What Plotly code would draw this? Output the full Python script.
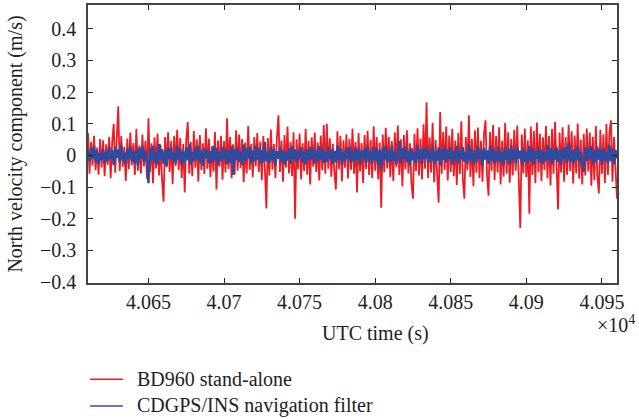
import plotly.graph_objects as go

# sample times (s), one sample per second from 40610 to 40960
t_start = 40610
n_samples = 351
times = [t_start + i for i in range(n_samples)]

bd960 = [
    0.071, -0.058, 0.043, -0.032, 0.062, -0.047, 0.025, -0.061, 0.052, -0.038,
    0.048, -0.066, 0.035, -0.029, 0.058, -0.072, 0.041, 0.100, -0.055, 0.044,
    0.155, -0.049, 0.061, -0.036, 0.027, -0.081, 0.053, -0.044, 0.072, -0.031,
    0.039, -0.062, 0.084, -0.048, 0.031, -0.057, 0.066, -0.035, 0.046, -0.074,
    0.117, -0.052, 0.038, -0.088, 0.057, -0.041, 0.069, -0.063, 0.034, -0.079,
    -0.146, 0.058, -0.037, 0.073, -0.052, 0.045, -0.090, 0.062, -0.033, 0.081,
    -0.047, 0.055, -0.071, 0.036, -0.117, 0.049, 0.105, -0.058, 0.042, -0.066,
    0.077, -0.039, 0.051, -0.083, 0.064, -0.046, 0.038, -0.059, 0.086, -0.042,
    0.053, -0.068, 0.029, -0.051, 0.074, -0.108, 0.047, -0.036, 0.062, -0.077,
    0.045, -0.054, 0.117, -0.043, 0.058, -0.072, 0.035, -0.061, 0.079, -0.048,
    0.066, -0.039, 0.052, -0.085, 0.041, -0.057, 0.093, -0.046, 0.037, -0.069,
    0.058, -0.034, 0.071, -0.052, 0.044, -0.078, 0.061, -0.041, -0.168, 0.055,
    -0.063, 0.082, -0.045, 0.036, -0.071, 0.059, 0.127, -0.052, 0.047, -0.083,
    0.064, -0.038, 0.091, -0.057, 0.042, -0.066, 0.073, -0.200, 0.051, -0.044,
    0.069, -0.075, 0.038, -0.049, 0.084, -0.061, 0.045, -0.092, 0.057, -0.036,
    0.072, -0.053, 0.041, -0.079, 0.063, -0.047, 0.096, -0.058, 0.100, -0.042,
    0.054, -0.067, 0.037, -0.051, -0.108, 0.076, -0.044, 0.061, -0.082, 0.048,
    -0.039, 0.067, -0.073, 0.052, -0.046, 0.085, -0.058, 0.043, -0.117, 0.071,
    -0.051, 0.039, -0.087, 0.064, -0.043, 0.078, -0.062, 0.049, -0.071, 0.092,
    -0.048, 0.058, -0.076, 0.041, -0.165, 0.066, -0.053, 0.087, -0.041, 0.059,
    -0.069, 0.045, -0.081, 0.073, -0.037, 0.094, -0.062, 0.051, -0.098, 0.064,
    -0.044, 0.079, -0.057, 0.038, -0.089, -0.137, 0.068, -0.049, 0.086, -0.063,
    0.053, -0.076, 0.098, -0.042, 0.168, -0.071, 0.057, -0.054, 0.103, -0.085,
    0.049, -0.062, -0.149, 0.137, -0.058, 0.074, -0.046, 0.091, -0.079, 0.063,
    -0.052, 0.084, -0.066, 0.047, -0.093, 0.071, -0.059, 0.108, -0.074, -0.137,
    0.058, -0.047, 0.127, -0.068, 0.052, -0.097, 0.079, -0.055, 0.088, -0.071,
    0.046, -0.083, 0.067, 0.111, -0.062, -0.127, 0.074, -0.049, 0.096, -0.078,
    0.061, -0.054, 0.089, -0.092, 0.045, -0.067, 0.102, -0.058, 0.073, -0.086,
    0.052, -0.063, 0.081, -0.048, 0.094, -0.075, -0.229, 0.066, -0.057, 0.085,
    -0.069, 0.048, -0.184, 0.091, -0.062, 0.077, -0.088, 0.104, -0.053, 0.068,
    -0.081, 0.057, -0.046, 0.093, -0.072, 0.061, -0.095, 0.084, -0.058, 0.106,
    -0.067, -0.171, 0.072, -0.054, 0.089, -0.083, 0.058, -0.061, 0.097, -0.049,
    0.076, -0.089, 0.063, -0.057, 0.101, -0.074, 0.049, -0.092, 0.068, -0.063,
    0.085, -0.051, 0.072, -0.096, 0.059, -0.078, 0.093, -0.066, -0.120, 0.081,
    -0.058, 0.067, -0.087, 0.099, -0.062, 0.074, 0.111, -0.083, 0.058, -0.071,
    -0.137,
]

cdgps_ins = [
    0.012, -0.018, 0.024, -0.009, 0.031, -0.022, 0.015, -0.027, 0.008, -0.014,
    0.021, -0.025, 0.011, -0.019, 0.028, -0.012, 0.017, -0.031, 0.026, -0.008,
    0.019, -0.023, 0.033, -0.016, 0.009, -0.028, 0.022, -0.011, 0.027, -0.020,
    0.014, -0.026, 0.018, -0.032, 0.025, -0.010, 0.029, -0.021, 0.013, -0.017,
    -0.088, 0.023, -0.015, 0.030, -0.024, 0.011, -0.029, 0.036, -0.013, 0.020,
    -0.027, 0.016, -0.034, 0.024, -0.011, 0.028, -0.019, 0.009, -0.025, 0.032,
    -0.014, 0.021, -0.030, 0.012, -0.022, 0.027, -0.016, 0.035, -0.028, 0.010,
    -0.019, 0.025, -0.012, 0.031, -0.024, 0.014, -0.033, 0.022, -0.009, 0.018,
    -0.026, 0.013, -0.021, 0.029, -0.015, 0.024, -0.031, 0.011, -0.018, 0.027,
    -0.012, 0.020, -0.028, 0.016, -0.023, 0.030, -0.062, 0.019, -0.014, 0.025,
    -0.021, 0.012, -0.029, 0.034, -0.017, 0.022, -0.010, 0.027, -0.025, 0.015,
    -0.018, 0.031, -0.013, 0.024, -0.027, 0.016, -0.022, 0.043, -0.019, 0.011,
    -0.024, 0.028, -0.015, 0.020, -0.032, 0.013, -0.011, 0.026, -0.020, 0.017,
    -0.028, 0.010, -0.016, 0.023, -0.026, 0.030, -0.012, 0.019, -0.023, 0.014,
    -0.010, 0.025, -0.021, 0.012, -0.029, 0.018, -0.015, 0.027, -0.011, 0.022,
    -0.026, 0.015, -0.018, 0.029, -0.013, 0.021, -0.024, 0.010, -0.020, 0.026,
    -0.012, 0.019, -0.027, 0.014, -0.022, 0.031, -0.016, 0.023, -0.030, 0.011,
    -0.017, 0.024, -0.011, 0.028, -0.025, 0.013, -0.019, 0.026, -0.014, 0.020,
    -0.029, 0.016, -0.012, 0.022, -0.024, 0.030, -0.018, 0.011, -0.026, 0.027,
    -0.015, 0.021, -0.031, 0.018, -0.045, 0.025, -0.013, 0.029, -0.022, 0.014,
    -0.020, 0.032, -0.017, 0.012, -0.028, 0.019, 0.045, -0.024, 0.023, -0.011,
    0.027, -0.021, 0.015, -0.030, 0.024, -0.016, 0.011, -0.025, 0.033, -0.013,
    0.018, -0.027, 0.022, -0.010, 0.029, -0.023, 0.014, -0.019, 0.031, -0.026,
    0.012, -0.017, 0.026, -0.032, 0.020, -0.014, 0.028, -0.022, 0.016, -0.011,
    0.025, -0.029, 0.013, -0.018, 0.030, -0.024, 0.017, -0.012, 0.027, -0.020,
    0.011, -0.026, 0.034, -0.015, 0.021, -0.028, 0.014, -0.021, 0.029, -0.010,
    0.019, -0.032, 0.024, -0.013, 0.016, -0.027, 0.031, -0.018, 0.022, -0.025,
    0.013, -0.019, 0.028, -0.023, 0.010, -0.030, 0.025, -0.014, 0.020, -0.028,
    0.032, -0.016, 0.018, -0.025, 0.027, -0.011, 0.015, -0.029, 0.023, -0.020,
    0.012, -0.024, 0.030, -0.017, 0.021, -0.031, 0.014, -0.010, 0.026, -0.022,
    0.017, -0.027, 0.011, -0.019, 0.033, -0.015, 0.024, -0.028, 0.019, -0.013,
    0.028, -0.021, 0.016, -0.030, 0.022, -0.012, 0.027, -0.024, 0.040, -0.018,
    0.014, -0.026, 0.021, -0.016, 0.031, -0.020, 0.012, -0.029, -0.052, 0.025,
    -0.017, 0.023, -0.011, 0.030, -0.026, 0.015, -0.021, 0.028, -0.014, 0.019,
    -0.030, 0.024, -0.016, 0.012, -0.025, 0.033, -0.019, 0.021, -0.028, 0.017,
    -0.010,
]

series_names = ["BD960 stand-alone", "CDGPS/INS navigation filter"]
series_colors = ["#ED1C24", "#2F4B9F"]

x_tickvals = [40650, 40700, 40750, 40800, 40850, 40900, 40950]
x_ticktext = ["4.065", "4.07", "4.075", "4.08", "4.085", "4.09", "4.095"]
y_tickvals = [-0.4, -0.3, -0.2, -0.1, 0, 0.1, 0.2, 0.3, 0.4]

FONT = "Liberation Serif"
FS = 20
TXT = "#1e1e1e"
AXCOL = "#444444"

fig = go.Figure()
fig.add_trace(go.Scatter(x=times, y=bd960, mode="lines", name=series_names[0],
                         line=dict(color=series_colors[0], width=1.8), showlegend=False))
fig.add_trace(go.Scatter(x=times, y=cdgps_ins, mode="lines", name=series_names[1],
                         line=dict(color=series_colors[1], width=2.4), showlegend=False))

axis_common = dict(showline=True, linecolor=AXCOL, linewidth=1.5, mirror="ticks",
                   ticks="inside", ticklen=5, tickcolor="#222222", tickwidth=1,
                   showgrid=False, zeroline=False, automargin=False,
                   tickfont=dict(family=FONT, size=FS, color=TXT))

fig.update_xaxes(range=[40610, 40960], tickmode="array", tickvals=x_tickvals,
                 ticktext=x_ticktext, ticklabelstandoff=0, **axis_common)
fig.update_yaxes(range=[-0.403, 0.475], tickmode="array", tickvals=y_tickvals,
                 ticklabelstandoff=6,
                 title=dict(text="North velocity component (m/s)",
                            font=dict(family=FONT, size=FS, color=TXT), standoff=12),
                 **axis_common)

# x-axis title (placed as in the reference, under the 4.08 tick)
fig.add_annotation(x=40800, y=0, xref="x", yref="paper", xanchor="center", yanchor="middle",
                   yshift=-50, showarrow=False, text="UTC time (s)",
                   font=dict(family=FONT, size=FS, color=TXT))
fig.add_annotation(x=1.0, y=0, xref="paper", yref="paper", xanchor="right", yanchor="middle",
                   xshift=20, yshift=-41, showarrow=False,
                   text="×10<sup>4</sup>", font=dict(family=FONT, size=FS, color=TXT))

# legend below the plot (line sample + label for each series)
legend_rows_y = [-0.3464, -0.4424]
for name, color, ly in zip(series_names, series_colors, legend_rows_y):
    fig.add_shape(type="line", xref="paper", yref="paper", x0=0.004, x1=0.066, y0=ly, y1=ly,
                  line=dict(color=color, width=1.5))
    fig.add_annotation(x=0.088, y=ly, xref="paper", yref="paper", xanchor="left",
                       yanchor="middle", showarrow=False, text=name,
                       font=dict(family=FONT, size=FS, color=TXT))

fig.update_layout(
    width=639, height=419,
    margin=dict(l=88, r=22, t=5, b=136),
    paper_bgcolor="white", plot_bgcolor="white",
    showlegend=False,
)

fig.write_html("out.html", config={"displayModeBar": False},
               post_script="document.body.style.margin='0px';document.body.style.overflow='hidden';")
